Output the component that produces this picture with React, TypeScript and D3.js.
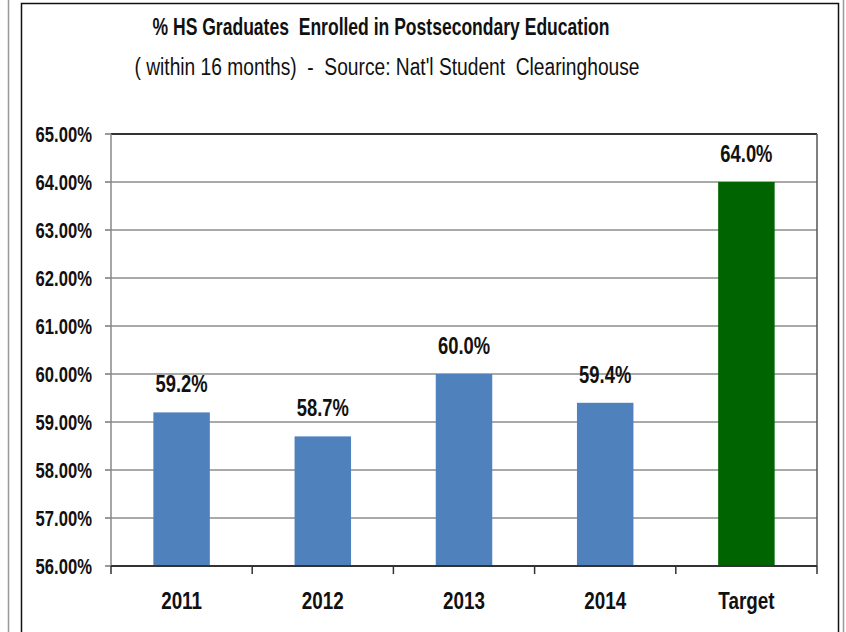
import React from 'react';
import * as d3 from 'd3';

const categories = ['2011', '2012', '2013', '2014', 'Target'];
const values = [59.2, 58.7, 60.0, 59.4, 64.0];
const barColors = ['#4F81BD', '#4F81BD', '#4F81BD', '#4F81BD', '#006400'];
const yTicks = [56, 57, 58, 59, 60, 61, 62, 63, 64, 65];

const title = '% HS Graduates  Enrolled in Postsecondary Education';
const subtitle = "( within 16 months)  -  Source: Nat'l Student  Clearinghouse";

const width = 846;
const height = 632;
const marginLeft = 111;
const marginRight = 29;
const marginTop = 134;
const marginBottom = 66;

const font = "'Liberation Sans', Arial, sans-serif";

// Calibri-like narrow text: squeeze a regular face horizontally
interface NarrowTextProps {
  x: number;
  y: number;
  sx: number;
  size: number;
  anchor?: 'start' | 'middle' | 'end';
  bold?: boolean;
  dy?: string;
  children: React.ReactNode;
}

const NarrowText: React.FC<NarrowTextProps> = ({ x, y, sx, size, anchor = 'middle', bold = true, dy, children }) => (
  <text
    transform={`translate(${x},${y}) scale(${sx},1)`}
    textAnchor={anchor}
    fontSize={size}
    fontWeight={bold ? 'bold' : 'normal'}
    dy={dy}
    fill="#111"
    style={{ whiteSpace: 'pre' }}
  >
    {children}
  </text>
);

const App: React.FC = () => {
  const innerWidth = width - marginLeft - marginRight;
  const innerHeight = height - marginTop - marginBottom;

  const x = d3.scaleBand<string>()
    .domain(categories)
    .range([0, innerWidth])
    .paddingInner(0.6)
    .paddingOuter(0.3);

  const y = d3.scaleLinear()
    .domain([56, 65])
    .range([innerHeight, 0]);

  const bounds = d3.range(categories.length + 1).map(i => i * innerWidth / categories.length);

  return (
    <svg width={width} height={height} style={{ position: 'absolute', left: 0, top: 0, background: '#fff' }} fontFamily={font}>
      {/* outer frame lines */}
      <line x1={8.5} x2={8.5} y1={0} y2={height} stroke="#999" strokeWidth={1.5} />
      <line x1={843.5} x2={843.5} y1={0} y2={height} stroke="#999" strokeWidth={1.5} />
      <rect x={21.5} y={3.5} width={817} height={height + 10} fill="#fff" stroke="#111" strokeWidth={1.5} />

      <NarrowText x={381} y={35} sx={0.763} size={23}>{title}</NarrowText>
      <NarrowText x={387} y={75} sx={0.835} size={23} bold={false}>{subtitle}</NarrowText>

      <g transform={`translate(${marginLeft},${marginTop})`}>
        {yTicks.map(t => (
          <g key={t}>
            {t > 56 && t < 65 && (
              <line x1={0} x2={innerWidth} y1={y(t)} y2={y(t)} stroke="#8c8c8c" strokeWidth={1.5} />
            )}
            <line x1={-6} x2={0} y1={y(t)} y2={y(t)} stroke="#777" strokeWidth={1.5} />
            <NarrowText x={-19} y={y(t)} sx={0.756} size={22} anchor="end" dy="0.36em">
              {t.toFixed(2)}%
            </NarrowText>
          </g>
        ))}

        {/* plot frame */}
        <line x1={0} x2={innerWidth} y1={0} y2={0} stroke="#333" strokeWidth={1.8} />
        <line x1={innerWidth} x2={innerWidth} y1={0} y2={innerHeight} stroke="#555" strokeWidth={1.5} />
        <line x1={0} x2={0} y1={0} y2={innerHeight} stroke="#888" strokeWidth={1.5} />

        {categories.map((c, i) => {
          const cx = (x(c) || 0) + x.bandwidth() / 2;
          return (
            <g key={c}>
              <rect
                x={x(c)}
                y={y(values[i])}
                width={x.bandwidth()}
                height={innerHeight - y(values[i])}
                fill={barColors[i]}
              />
              <NarrowText x={cx} y={y(values[i]) - 20} sx={0.8} size={23}>
                {values[i].toFixed(1)}%
              </NarrowText>
              <NarrowText x={cx} y={innerHeight + 43} sx={0.82} size={23}>
                {c}
              </NarrowText>
            </g>
          );
        })}

        {/* x axis */}
        <line x1={0} x2={innerWidth} y1={innerHeight} y2={innerHeight} stroke="#333" strokeWidth={1.8} />
        {bounds.map((b, i) => (
          <line key={i} x1={b} x2={b} y1={innerHeight} y2={innerHeight + 8} stroke="#333" strokeWidth={1.5} />
        ))}
      </g>
    </svg>
  );
};

export default App;
